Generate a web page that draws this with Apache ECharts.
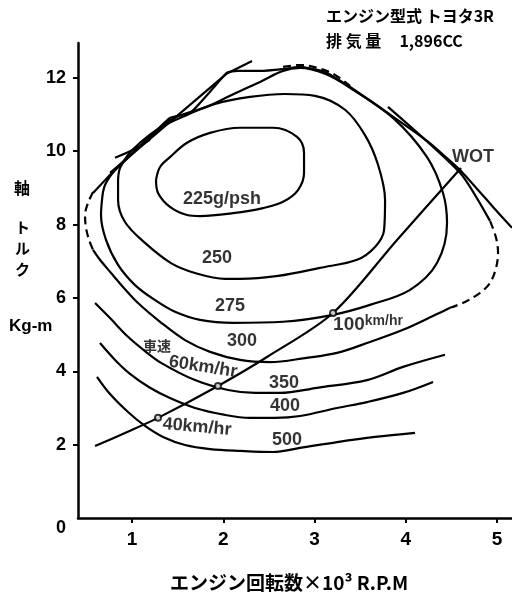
<!DOCTYPE html>
<html><head><meta charset="utf-8">
<script src="https://cdn.jsdelivr.net/npm/echarts@6/dist/echarts.min.js"></script>
<style>html,body{margin:0;padding:0;background:#fff}#c{width:512px;height:599px}</style>
</head><body><div id="c"></div>
<script>
// Tick labels
const xTicks = [1, 2, 3, 4, 5];
const yTicks = [0, 2, 4, 6, 8, 10, 12];

// BSFC contours (rpm x1000, torque kg-m)
const c225 = [[1.263,9.22],[1.307,9.57],[1.416,9.84],[1.603,10.23],[1.855,10.50],[2.184,10.64],[2.545,10.64],[2.808,10.39],[2.885,9.95],[2.885,9.41],[2.819,8.94],[2.655,8.62],[2.436,8.45],[2.107,8.31],[1.745,8.23],[1.603,8.26],[1.416,8.48],[1.285,8.86],[1.263,9.22]];
const c250 = [[0.847,9.22],[0.868,9.54],[0.956,9.90],[1.088,10.23],[1.307,10.64],[1.603,10.99],[1.910,11.29],[2.293,11.48],[2.677,11.56],[3.005,11.51],[3.334,11.13],[3.553,10.44],[3.696,9.63],[3.773,8.67],[3.762,7.85],[3.663,7.39],[3.466,7.04],[3.060,6.82],[2.600,6.60],[2.184,6.52],[2.019,6.52],[1.690,6.68],[1.427,6.95],[1.142,7.50],[0.923,8.07],[0.847,8.67],[0.847,9.22]];
const c275 = [[0.671,8.67],[0.704,9.08],[0.814,9.49],[1.011,9.96],[1.197,10.39],[1.416,10.85],[1.636,11.07],[1.822,11.21],[2.074,11.51],[2.403,11.89],[2.655,12.19],[2.841,12.27],[3.115,12.11],[3.389,11.73],[3.860,10.91],[4.233,9.84],[4.408,8.86],[4.452,8.04],[4.342,6.95],[4.047,6.22],[3.608,5.81],[3.203,5.54],[2.655,5.35],[2.107,5.32],[1.745,5.40],[1.471,5.62],[1.252,5.94],[1.033,6.35],[0.847,6.90],[0.715,7.58],[0.660,8.26],[0.671,8.67]];
const c300Solid = [[0.573,7.31],[0.649,7.04],[0.770,6.68],[0.901,6.30],[1.066,5.86],[1.307,5.35],[1.581,4.85],[1.855,4.53],[2.184,4.31],[2.512,4.25],[2.896,4.36],[3.247,4.50],[3.608,4.80],[3.970,5.13],[4.342,5.56],[4.485,5.73]];
const c300DashLeft = [[0.573,8.89],[0.518,8.59],[0.485,8.26],[0.496,7.91],[0.529,7.58],[0.573,7.31]];
const c300DashRight = [[4.485,5.73],[4.649,5.89],[4.814,6.14],[4.923,6.41],[4.989,6.82],[5.011,7.23],[4.989,7.64],[4.923,8.10]];
const c300Upper = [[4.923,8.10],[4.595,9.41],[3.805,11.21]];
const c300DashTop = [[2.655,12.30],[2.841,12.35],[3.038,12.27],[3.225,12.08],[3.389,11.78]];
const c350 = [[0.595,5.86],[0.759,5.45],[0.956,4.94],[1.142,4.55],[1.318,4.23],[1.690,3.76],[2.052,3.49],[2.348,3.41],[2.622,3.41],[3.027,3.55],[3.575,3.76],[3.970,4.12],[4.430,4.45]];
const c400 = [[0.649,4.77],[0.814,4.31],[0.978,3.93],[1.197,3.55],[1.416,3.27],[1.690,3.00],[2.019,2.81],[2.293,2.73],[2.567,2.73],[2.841,2.78],[3.247,3.00],[3.575,3.16],[3.970,3.41],[4.299,3.71]];
const c500 = [[0.616,3.85],[0.759,3.38],[0.956,2.89],[1.142,2.51],[1.340,2.21],[1.581,1.99],[1.855,1.88],[2.184,1.83],[2.545,1.80],[2.841,1.91],[3.247,2.07],[3.663,2.21],[4.101,2.32]];

// Full-throttle (WOT) envelope lines
const wotMain = [[0.573,8.86],[0.759,9.35],[1.011,9.95],[1.197,10.39],[1.416,10.91],[1.636,11.04],[1.855,11.62],[2.041,12.14],[2.151,12.19],[2.403,12.19],[2.655,12.24],[2.841,12.30],[3.115,12.16],[3.389,11.75],[3.860,10.94],[4.233,10.28],[4.595,9.49],[4.956,8.48],[5.164,7.91]];
const wotAlt = [[0.759,9.41],[2.041,12.12],[2.315,12.46]];
const wotStub = [[0.814,9.82],[1.011,10.04],[1.197,10.31]];

// Road-load line and vehicle-speed points
const roadLoad = [[0.595,1.96],[0.923,2.32],[1.285,2.73],[1.942,3.60],[2.479,4.39],[3.203,5.59],[3.904,7.58],[4.605,9.54]];
const speedPoints = [[1.285,2.73],[1.942,3.60],[3.203,5.59]];

// Annotation texts
const annTexts = ['225g/psh','250','275','300','350','400','500','WOT','{s|車速}','60km/hr','40km/hr','{a|100}{b|km/hr}'];
const annAt = [[1.986,8.70],[1.932,7.09],[2.074,5.78],[2.205,4.83],[2.666,3.68],[2.677,3.05],[2.699,2.13],[4.737,9.84],[1.274,4.69],[1.778,4.12],[1.712,2.48],[3.586,5.26]];
const annRotate = [0,0,0,0,0,0,0,0,0,-9,-5,0];

const FONT = "'Liberation Sans','Noto Sans CJK JP',sans-serif";
const JP = "'Noto Sans CJK JP',sans-serif";

function line(data, dashed, smooth) {
  return {
    type: 'line', data: data, symbol: 'none', silent: true,
    smooth: smooth === undefined ? 0.35 : smooth,
    lineStyle: { color: '#000', width: 2.2, type: dashed ? [8, 5] : 'solid' },
    z: 2
  };
}

const chart = echarts.init(document.getElementById('c'), null, { renderer: 'canvas' });
chart.setOption({
  animation: false,
  backgroundColor: '#fff',
  grid: { left: 78, right: 0, top: 43, bottom: 81 },
  xAxis: {
    type: 'value', min: 0.408, max: 5.164,
    splitLine: { show: false },
    axisLine: { lineStyle: { color: '#000', width: 2.5 } },
    axisTick: { show: true, length: 5, lineStyle: { color: '#000', width: 2 }, customValues: xTicks },
    axisLabel: { customValues: xTicks, color: '#000', fontSize: 19, fontWeight: 'bold', fontFamily: FONT, margin: 12 }
  },
  yAxis: {
    type: 'value', min: 0, max: 12.95,
    splitLine: { show: false },
    axisLine: { show: true, lineStyle: { color: '#000', width: 2.5 } },
    axisTick: { show: true, length: 5, lineStyle: { color: '#000', width: 2 }, customValues: yTicks.filter(v => v > 0) },
    axisLabel: {
      customValues: yTicks, color: '#000', fontSize: 18, fontWeight: 'bold', fontFamily: FONT, margin: 12,
      formatter: v => v === 0 ? '{z|0}' : String(v),
      rich: { z: { fontSize: 18, fontWeight: 'bold', fontFamily: FONT, color: '#000', padding: [20, 0, 0, 0] } }
    }
  },
  graphic: [
    { type: 'text', left: 326, top: 8, style: { text: 'エンジン型式 トヨタ3R', font: "bold 16px " + JP, fill: '#000' } },
    { type: 'text', left: 326, top: 33, style: { text: '排 気 量     1,896CC', font: "bold 16px " + JP, fill: '#000' } },
    { type: 'text', left: 14, top: 180, style: { text: '軸', font: "bold 16px " + JP, fill: '#000' } },
    { type: 'text', left: 15, top: 220, style: { text: 'ト', font: "bold 15px " + JP, fill: '#000' } },
    { type: 'text', left: 15, top: 241, style: { text: 'ル', font: "bold 15px " + JP, fill: '#000' } },
    { type: 'text', left: 15, top: 262, style: { text: 'ク', font: "bold 15px " + JP, fill: '#000' } },
    { type: 'text', left: 9, top: 318, style: { text: 'Kg-m', font: "bold 17px " + FONT, fill: '#000' } },
    { type: 'text', left: 170, top: 573, style: { text: 'エンジン回転数×10³ R.P.M', font: "bold 19px " + JP, fill: '#000' } }
  ],
  series: [
    line(c225), line(c250), line(c275),
    line(c300Solid), line(c300DashLeft, true), line(c300DashRight, true), line(c300Upper, false, 0.2), line(c300DashTop, true),
    line(c350), line(c400), line(c500),
    line(wotMain, false, 0.15), line(wotAlt, false, 0), line(wotStub, false, 0.2),
    line(roadLoad, false, 0.3),
    {
      type: 'scatter', data: speedPoints, symbol: 'circle', symbolSize: 6, silent: true, z: 5,
      itemStyle: { color: '#fff', borderColor: '#000', borderWidth: 2 }
    },
    {
      type: 'scatter', silent: true, symbolSize: 0, z: 6,
      data: annAt.map((p, i) => ({ value: p, name: annTexts[i], label: { rotate: annRotate[i] } })),
      label: {
        show: true, position: 'inside', formatter: p => p.name,
        color: '#000', fontSize: 18, fontWeight: 'bold', fontFamily: FONT,
        rich: {
          a: { fontSize: 19, fontWeight: 'bold', fontFamily: FONT, color: '#000' },
          b: { fontSize: 14, fontWeight: 'bold', fontFamily: FONT, color: '#000', padding: [0, 0, 8, 0] },
          s: { fontSize: 14, fontWeight: 'bold', fontFamily: JP, color: '#000' }
        }
      }
    }
  ]
});
</script></body></html>
